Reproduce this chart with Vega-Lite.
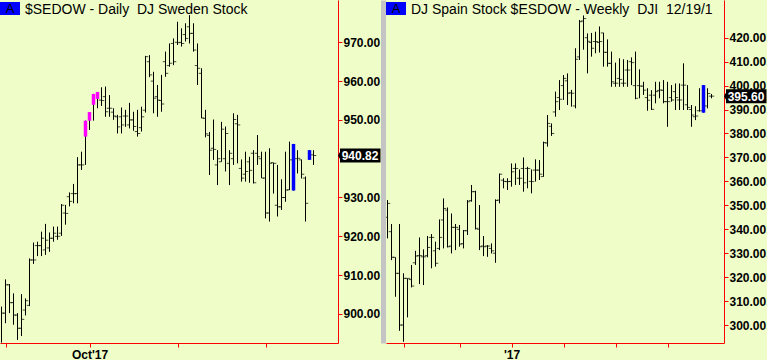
{
"$schema": "https://vega.github.io/schema/vega-lite/v6.json",
"background": "#effec8",
"padding": 0,
"config": {"view": {"stroke": null}},
"spacing": 48,
"bounds": "flush",
"datasets": {
"se": [
{"i":0,"o":null,"h":901.9,"l":892.6,"c":900.2},
{"i":1,"o":900.2,"h":908.9,"l":897.6,"c":907.5},
{"i":2,"o":907.5,"h":907.7,"l":900.2,"c":902.9},
{"i":3,"o":902.9,"h":905.3,"l":897.2,"c":899.7},
{"i":4,"o":899.7,"h":900.2,"l":893.3,"c":896.3},
{"i":5,"o":896.3,"h":905.1,"l":894.3,"c":898.6},
{"i":6,"o":901.0,"h":904.0,"l":899.6,"c":903.4},
{"i":7,"o":902.2,"h":914.3,"l":902.0,"c":913.9},
{"i":8,"o":913.9,"h":918.4,"l":912.9,"c":913.9},
{"i":9,"o":917.6,"h":918.6,"l":914.9,"c":917.6},
{"i":10,"o":917.6,"h":921.2,"l":914.9,"c":919.5},
{"i":11,"o":916.5,"h":923.2,"l":915.2,"c":919.0},
{"i":12,"o":917.0,"h":921.0,"l":916.0,"c":919.5},
{"i":13,"o":919.5,"h":922.5,"l":918.6,"c":920.8},
{"i":14,"o":920.0,"h":922.5,"l":919.1,"c":920.0},
{"i":15,"o":920.8,"h":928.3,"l":920.1,"c":928.0},
{"i":16,"o":926.0,"h":928.1,"l":923.0,"c":925.9},
{"i":17,"o":930.2,"h":931.3,"l":927.7,"c":929.0},
{"i":18,"o":931.0,"h":933.5,"l":928.5,"c":931.0},
{"i":19,"o":931.0,"h":940.4,"l":928.5,"c":938.4},
{"i":20,"o":938.4,"h":941.8,"l":937.1,"c":938.4},
{"i":21,"h":949.8,"l":938.4,"hl":"m","bt":949.8,"bb":945.7},
{"i":22,"h":952.0,"l":947.4,"hl":"m","bt":952.0,"bb":949.8},
{"i":23,"h":956.7,"l":949.8,"hl":"m","bt":956.7,"bb":953.9},
{"i":24,"h":957.2,"l":953.0,"hl":"m","bt":957.2,"bb":955.4},
{"i":25,"o":955.1,"h":958.4,"l":953.6,"c":955.0},
{"i":26,"o":956.0,"h":958.6,"l":950.8,"c":952.1},
{"i":27,"o":953.0,"h":956.4,"l":950.8,"c":953.0},
{"i":28,"o":952.0,"h":953.0,"l":950.0,"c":951.0},
{"i":29,"o":950.8,"h":951.3,"l":946.5,"c":948.2},
{"i":30,"o":950.8,"h":953.2,"l":946.5,"c":948.7},
{"i":31,"o":951.0,"h":952.6,"l":948.2,"c":951.0},
{"i":32,"o":948.7,"h":954.4,"l":947.8,"c":950.0},
{"i":33,"o":950.0,"h":952.1,"l":947.2,"c":948.3},
{"i":34,"o":947.0,"h":952.6,"l":945.7,"c":946.5},
{"i":35,"o":948.0,"h":953.4,"l":947.0,"c":950.8},
{"i":36,"o":952.5,"h":966.5,"l":951.9,"c":966.3},
{"i":37,"o":965.0,"h":966.7,"l":961.0,"c":961.6},
{"i":38,"o":960.0,"h":962.4,"l":951.7,"c":955.6},
{"i":39,"o":956.0,"h":959.0,"l":950.8,"c":955.1},
{"i":40,"o":955.0,"h":961.6,"l":952.1,"c":954.1},
{"i":41,"o":965.0,"h":967.6,"l":961.1,"c":962.0},
{"i":42,"o":964.0,"h":969.7,"l":963.7,"c":964.6},
{"i":43,"o":969.7,"h":971.0,"l":964.1,"c":965.0},
{"i":44,"o":970.0,"h":975.3,"l":969.3,"c":969.9},
{"i":45,"o":970.0,"h":973.6,"l":968.9,"c":969.7},
{"i":46,"o":972.0,"h":974.9,"l":970.2,"c":971.0},
{"i":47,"o":974.0,"h":977.0,"l":969.7,"c":972.3},
{"i":48,"o":972.3,"h":974.9,"l":967.6,"c":968.0},
{"i":49,"o":964.0,"h":969.7,"l":959.0,"c":963.3},
{"i":50,"o":962.0,"h":963.3,"l":950.4,"c":950.5},
{"i":51,"o":950.4,"h":952.6,"l":945.5,"c":946.4},
{"i":52,"o":946.0,"h":946.9,"l":935.8,"c":942.2},
{"i":53,"o":942.7,"h":950.1,"l":939.7,"c":942.4},
{"i":54,"o":938.4,"h":942.2,"l":933.2,"c":940.0},
{"i":55,"o":939.2,"h":949.5,"l":939.2,"c":947.6},
{"i":56,"o":940.0,"h":948.3,"l":936.7,"c":946.5},
{"i":57,"o":938.8,"h":942.2,"l":933.2,"c":941.4},
{"i":58,"o":940.0,"h":951.7,"l":938.4,"c":950.1},
{"i":59,"o":949.0,"h":951.3,"l":938.8,"c":948.7},
{"i":60,"o":937.5,"h":939.8,"l":934.1,"c":935.0},
{"i":61,"o":936.0,"h":941.8,"l":934.1,"c":936.7},
{"i":62,"o":939.2,"h":940.5,"l":933.8,"c":937.0},
{"i":63,"o":941.4,"h":942.2,"l":933.6,"c":933.8},
{"i":64,"o":941.4,"h":946.1,"l":938.4,"c":940.5},
{"i":65,"o":940.0,"h":941.8,"l":935.0,"c":935.0},
{"i":66,"o":935.0,"h":941.8,"l":924.6,"c":926.0},
{"i":67,"o":926.0,"h":942.7,"l":923.8,"c":938.8},
{"i":68,"o":939.0,"h":939.0,"l":931.0,"c":938.8},
{"i":69,"o":928.0,"h":938.4,"l":925.1,"c":927.6},
{"i":70,"o":927.6,"h":934.7,"l":926.8,"c":930.0},
{"i":71,"o":930.0,"h":941.8,"l":928.9,"c":931.9},
{"i":72,"o":932.0,"h":944.4,"l":931.9,"c":939.7},
{"i":73,"h":943.8,"l":931.8,"hl":"b","bt":943.8,"bb":931.8},
{"i":74,"o":940.0,"h":942.2,"l":936.2,"c":940.1},
{"i":75,"o":939.7,"h":939.8,"l":934.9,"c":936.0},
{"i":76,"o":935.0,"h":935.4,"l":923.8,"c":928.5},
{"i":77,"h":942.2,"l":939.7,"hl":"b","bt":942.2,"bb":939.7},
{"i":78,"o":941.0,"h":942.2,"l":938.4,"c":940.82}
],
"es": [
{"i":0,"o":345.0,"h":352.2,"l":336.2,"c":350.8},
{"i":1,"o":339.0,"h":342.2,"l":327.1,"c":328.3},
{"i":2,"o":328.3,"h":328.3,"l":311.8,"c":321.6},
{"i":3,"o":321.6,"h":342.2,"l":297.6,"c":300.0},
{"i":4,"o":300.0,"h":321.6,"l":293.0,"c":319.5},
{"i":5,"o":319.5,"h":319.5,"l":303.2,"c":319.5},
{"i":6,"o":319.0,"h":325.1,"l":315.7,"c":316.3},
{"i":7,"o":326.0,"h":331.0,"l":325.1,"c":328.8},
{"i":8,"o":329.0,"h":336.6,"l":317.1,"c":329.0},
{"i":9,"o":328.5,"h":331.6,"l":316.7,"c":328.5},
{"i":10,"o":329.0,"h":337.2,"l":328.3,"c":332.4},
{"i":11,"o":336.6,"h":338.0,"l":323.7,"c":336.6},
{"i":12,"o":331.0,"h":334.8,"l":324.4,"c":325.8},
{"i":13,"o":332.0,"h":344.1,"l":331.3,"c":336.6},
{"i":14,"o":343.9,"h":352.9,"l":332.0,"c":348.7},
{"i":15,"o":348.0,"h":349.1,"l":332.4,"c":332.7},
{"i":16,"o":333.0,"h":346.6,"l":329.9,"c":340.8},
{"i":17,"o":340.8,"h":342.2,"l":331.3,"c":340.8},
{"i":18,"o":340.0,"h":341.8,"l":332.7,"c":333.8},
{"i":19,"o":334.0,"h":339.7,"l":332.0,"c":339.4},
{"i":20,"o":339.4,"h":352.2,"l":337.6,"c":351.5},
{"i":21,"o":352.0,"h":358.5,"l":351.5,"c":355.7},
{"i":22,"o":355.7,"h":356.1,"l":339.9,"c":340.4},
{"i":23,"o":340.0,"h":350.1,"l":331.3,"c":332.7},
{"i":24,"o":333.0,"h":337.2,"l":328.8,"c":332.7},
{"i":25,"o":333.0,"h":333.4,"l":328.5,"c":333.0},
{"i":26,"o":332.0,"h":334.1,"l":329.9,"c":331.0},
{"i":27,"o":330.0,"h":352.5,"l":326.0,"c":352.0},
{"i":28,"o":352.2,"h":363.3,"l":350.8,"c":363.0},
{"i":29,"o":360.5,"h":361.3,"l":357.1,"c":360.0},
{"i":30,"o":359.9,"h":361.3,"l":356.4,"c":359.9},
{"i":31,"o":360.0,"h":367.5,"l":357.8,"c":364.0},
{"i":32,"o":365.4,"h":367.5,"l":358.5,"c":365.4},
{"i":33,"o":361.3,"h":365.0,"l":358.5,"c":361.3},
{"i":34,"o":365.4,"h":370.0,"l":355.7,"c":359.4},
{"i":35,"o":365.4,"h":366.1,"l":357.1,"c":365.4},
{"i":36,"o":360.0,"h":365.0,"l":355.0,"c":359.9},
{"i":37,"o":364.7,"h":369.2,"l":359.9,"c":364.7},
{"i":38,"o":364.7,"h":368.9,"l":360.6,"c":363.0},
{"i":39,"o":362.0,"h":376.6,"l":361.9,"c":376.2},
{"i":40,"o":376.0,"h":387.7,"l":374.5,"c":384.2},
{"i":41,"o":383.0,"h":384.2,"l":379.0,"c":380.0},
{"i":42,"o":389.0,"h":397.5,"l":387.0,"c":393.3},
{"i":43,"o":395.0,"h":402.3,"l":389.8,"c":394.3},
{"i":44,"o":400.0,"h":404.4,"l":394.0,"c":403.0},
{"i":45,"o":402.0,"h":405.1,"l":391.9,"c":396.8},
{"i":46,"o":397.0,"h":398.2,"l":391.2,"c":396.8},
{"i":47,"o":391.5,"h":415.6,"l":390.5,"c":411.0},
{"i":48,"o":412.0,"h":427.4,"l":410.7,"c":426.7},
{"i":49,"o":427.0,"h":429.3,"l":415.0,"c":428.0},
{"i":50,"o":420.0,"h":421.8,"l":405.1,"c":418.5},
{"i":51,"o":418.0,"h":422.0,"l":412.1,"c":415.6},
{"i":52,"o":418.4,"h":422.5,"l":413.5,"c":418.4},
{"i":53,"o":418.0,"h":424.7,"l":413.8,"c":418.4},
{"i":54,"o":422.0,"h":422.1,"l":407.9,"c":413.9},
{"i":55,"o":413.9,"h":419.3,"l":407.9,"c":409.3},
{"i":56,"o":409.3,"h":414.2,"l":399.5,"c":401.6},
{"i":57,"o":401.0,"h":409.6,"l":399.5,"c":401.0},
{"i":58,"o":403.0,"h":411.4,"l":399.5,"c":402.6},
{"i":59,"o":401.0,"h":411.0,"l":399.5,"c":401.0},
{"i":60,"o":406.5,"h":410.7,"l":399.5,"c":406.5},
{"i":61,"o":410.0,"h":411.8,"l":400.2,"c":409.6},
{"i":62,"o":400.0,"h":414.2,"l":394.3,"c":394.7},
{"i":63,"o":400.0,"h":406.8,"l":394.7,"c":399.8},
{"i":64,"o":399.8,"h":401.6,"l":396.1,"c":398.1},
{"i":65,"o":395.0,"h":398.9,"l":389.5,"c":393.9},
{"i":66,"o":396.0,"h":398.1,"l":389.8,"c":390.1},
{"i":67,"o":396.0,"h":401.6,"l":392.6,"c":397.5},
{"i":68,"o":398.0,"h":401.6,"l":394.7,"c":398.2},
{"i":69,"o":398.0,"h":402.3,"l":392.6,"c":393.3},
{"i":70,"o":393.3,"h":401.6,"l":382.8,"c":393.3},
{"i":71,"o":395.0,"h":400.2,"l":393.3,"c":394.0},
{"i":72,"o":397.5,"h":400.9,"l":389.8,"c":395.0},
{"i":73,"o":394.0,"h":400.9,"l":389.8,"c":394.0},
{"i":74,"o":400.2,"h":409.3,"l":389.8,"c":400.2},
{"i":75,"o":392.0,"h":400.2,"l":389.8,"c":390.9},
{"i":76,"o":390.0,"h":391.9,"l":382.8,"c":387.7},
{"i":77,"o":387.0,"h":391.4,"l":385.6,"c":387.3},
{"i":78,"o":389.5,"h":398.9,"l":389.1,"c":389.5},
{"i":79,"h":400.2,"l":388.7,"hl":"b","bt":400.2,"bb":388.7},
{"i":80,"o":391.5,"h":398.9,"l":390.5,"c":396.7},
{"i":81,"o":395.6,"h":396.5,"l":394.7,"c":395.6}
],
"badge": [{"tag": "A"}]
},
"hconcat": [
{
"width": 338, "height": 343,
"title": {"text": "$SEDOW - Daily\u00a0 DJ Sweden Stock", "anchor": "start", "frame": "group", "offset": -17, "dx": 25, "font": "Liberation Sans", "fontSize": 14, "fontWeight": "normal", "color": "#000000"},
"resolve": {"axis": {"y": "independent"}},
"layer": [
{"data": {"name": "se"},
 "mark": {"type": "rule", "color": "#000000", "strokeWidth": 1},
 "encoding": {
  "x": {"field": "i", "type": "quantitative", "scale": {"domain": [-0.375, 84.125], "nice": false, "zero": false},
   "axis": {"values": [1, 22, 44, 66], "labelExpr": "datum.value == 22 ? \"Oct'17\" : ''", "title": null, "grid": false, "domainColor": "#ff0000", "tickColor": "#ff0000", "tickSize": 4, "labelFont": "Liberation Sans", "labelFontSize": 12, "labelFontWeight": "bold", "labelColor": "#000000", "labelPadding": 2, "zindex": 0}},
  "y": {"field": "l", "type": "quantitative", "scale": {"domain": [892.5, 980.9], "nice": false, "zero": false},
   "axis": {"orient": "right", "values": [900, 910, 920, 930, 950, 960, 970], "format": ".2f", "title": null, "grid": false, "domainColor": "#ff0000", "tickColor": "#ff0000", "tickSize": 4, "labelFont": "Liberation Sans", "labelFontSize": 12, "labelFontWeight": "bold", "labelColor": "#000000", "labelPadding": 1, "zindex": 0}},
  "y2": {"field": "h"}}},
{"data": {"name": "se"},
 "transform": [{"filter": "isValid(datum.o)"}],
 "mark": {"type": "tick", "orient": "horizontal", "size": 2.5, "thickness": 1, "xOffset": -1.5, "color": "#000000", "clip": true},
 "encoding": {"x": {"field": "i", "type": "quantitative"}, "y": {"field": "o", "type": "quantitative", "axis": null}}},
{"data": {"name": "se"},
 "transform": [{"filter": "isValid(datum.c)"}],
 "mark": {"type": "tick", "orient": "horizontal", "size": 2.5, "thickness": 1, "xOffset": 1.5, "color": "#000000", "clip": true},
 "encoding": {"x": {"field": "i", "type": "quantitative"}, "y": {"field": "c", "type": "quantitative", "axis": null}}},
{"data": {"name": "se"},
 "transform": [{"filter": "isValid(datum.bt)"}],
 "mark": {"type": "rule", "strokeWidth": 3.5},
 "encoding": {"x": {"field": "i", "type": "quantitative"}, "y": {"field": "bb", "type": "quantitative", "axis": null}, "y2": {"field": "bt"},
  "color": {"field": "hl", "type": "nominal", "scale": {"domain": ["m", "b"], "range": ["#ff00ff", "#0000ff"]}, "legend": null}}},
{"data": {"name": "se"},
 "transform": [{"filter": "datum.i == 78"}],
 "mark": {"type": "point", "shape": "M-2.15,0L-1.95,-0.35L-1.95,-0.7L2.1,-0.7L2.1,0.7L-1.95,0.7L-1.95,0.35Z", "size": 400, "filled": true, "color": "#000000", "opacity": 1, "xOffset": 46},
 "encoding": {"x": {"field": "i", "type": "quantitative"}, "y": {"field": "c", "type": "quantitative", "axis": null}}},
{"data": {"name": "se"},
 "transform": [{"filter": "datum.i == 78"}],
 "mark": {"type": "text", "color": "#ffffff", "font": "Liberation Sans", "fontSize": 12, "fontWeight": "bold", "align": "center", "baseline": "middle", "xOffset": 46.5, "dy": 0.5},
 "encoding": {"x": {"field": "i", "type": "quantitative"}, "y": {"field": "c", "type": "quantitative", "axis": null}, "text": {"field": "c", "type": "quantitative", "format": ".2f"}}},
{"data": {"name": "badge"},
 "mark": {"type": "point", "shape": "M0,0.2L2,0.2L2,1.5L0,1.5Z", "size": 400, "filled": true, "color": "#0000ff", "opacity": 1},
 "encoding": {"x": {"datum": -0.375, "type": "quantitative"}, "y": {"datum": 980.9, "type": "quantitative", "axis": null}}},
{"data": {"name": "badge"},
 "mark": {"type": "text", "color": "#000000", "font": "Liberation Sans", "fontSize": 13, "align": "center", "baseline": "middle", "dx": 10, "dy": 9},
 "encoding": {"x": {"datum": -0.375, "type": "quantitative"}, "y": {"datum": 980.9, "type": "quantitative", "axis": null}, "text": {"field": "tag"}}}
]
},
{
"width": 338, "height": 343,
"title": {"text": "DJ Spain Stock $ESDOW - Weekly\u00a0 DJI\u00a0 12/19/1", "anchor": "start", "frame": "group", "offset": -17, "dx": 25, "font": "Liberation Sans", "fontSize": 14, "fontWeight": "normal", "color": "#000000"},
"resolve": {"axis": {"y": "independent"}},
"layer": [
{"data": {"name": "es"},
 "mark": {"type": "rule", "color": "#000000", "strokeWidth": 1},
 "encoding": {
  "x": {"field": "i", "type": "quantitative", "scale": {"domain": [-0.375, 84.125], "nice": false, "zero": false},
   "axis": {"values": [4, 18, 31, 44, 57, 70], "labelExpr": "datum.value == 31 ? \"'17\" : ''", "title": null, "grid": false, "domainColor": "#ff0000", "tickColor": "#ff0000", "tickSize": 4, "labelFont": "Liberation Sans", "labelFontSize": 12, "labelFontWeight": "bold", "labelColor": "#000000", "labelPadding": 2, "zindex": 0}},
  "y": {"field": "l", "type": "quantitative", "scale": {"domain": [292.5, 435.75], "nice": false, "zero": false},
   "axis": {"orient": "right", "values": [300, 310, 320, 330, 340, 350, 360, 370, 380, 390, 400, 410, 420], "format": ".2f", "title": null, "grid": false, "domainColor": "#ff0000", "tickColor": "#ff0000", "tickSize": 4, "labelFont": "Liberation Sans", "labelFontSize": 12, "labelFontWeight": "bold", "labelColor": "#000000", "labelPadding": 1, "zindex": 0}},
  "y2": {"field": "h"}}},
{"data": {"name": "es"},
 "transform": [{"filter": "isValid(datum.o)"}],
 "mark": {"type": "tick", "orient": "horizontal", "size": 2.5, "thickness": 1, "xOffset": -1.5, "color": "#000000", "clip": true},
 "encoding": {"x": {"field": "i", "type": "quantitative"}, "y": {"field": "o", "type": "quantitative",
   "axis": {"orient": "left", "labels": false, "ticks": false, "title": null, "grid": false, "domainColor": "#c4c4c4", "domainWidth": 5, "offset": 3}}}},
{"data": {"name": "es"},
 "transform": [{"filter": "isValid(datum.c)"}],
 "mark": {"type": "tick", "orient": "horizontal", "size": 2.5, "thickness": 1, "xOffset": 1.5, "color": "#000000", "clip": true},
 "encoding": {"x": {"field": "i", "type": "quantitative"}, "y": {"field": "c", "type": "quantitative", "axis": null}}},
{"data": {"name": "es"},
 "transform": [{"filter": "isValid(datum.bt)"}],
 "mark": {"type": "rule", "strokeWidth": 3.5},
 "encoding": {"x": {"field": "i", "type": "quantitative"}, "y": {"field": "bb", "type": "quantitative", "axis": null}, "y2": {"field": "bt"},
  "color": {"field": "hl", "type": "nominal", "scale": {"domain": ["m", "b"], "range": ["#ff00ff", "#0000ff"]}, "legend": null}}},
{"data": {"name": "es"},
 "transform": [{"filter": "datum.i == 81"}],
 "mark": {"type": "point", "shape": "M-2.15,0L-1.95,-0.35L-1.95,-0.7L2.1,-0.7L2.1,0.7L-1.95,0.7L-1.95,0.35Z", "size": 400, "filled": true, "color": "#000000", "opacity": 1, "xOffset": 34},
 "encoding": {"x": {"field": "i", "type": "quantitative"}, "y": {"field": "c", "type": "quantitative", "axis": null}}},
{"data": {"name": "es"},
 "transform": [{"filter": "datum.i == 81"}],
 "mark": {"type": "text", "color": "#ffffff", "font": "Liberation Sans", "fontSize": 12, "fontWeight": "bold", "align": "center", "baseline": "middle", "xOffset": 34.5, "dy": 0.5},
 "encoding": {"x": {"field": "i", "type": "quantitative"}, "y": {"field": "c", "type": "quantitative", "axis": null}, "text": {"field": "c", "type": "quantitative", "format": ".2f"}}},
{"data": {"name": "badge"},
 "mark": {"type": "point", "shape": "M0,0.2L2,0.2L2,1.5L0,1.5Z", "size": 400, "filled": true, "color": "#0000ff", "opacity": 1},
 "encoding": {"x": {"datum": -0.375, "type": "quantitative"}, "y": {"datum": 435.75, "type": "quantitative", "axis": null}}},
{"data": {"name": "badge"},
 "mark": {"type": "text", "color": "#000000", "font": "Liberation Sans", "fontSize": 13, "align": "center", "baseline": "middle", "dx": 10, "dy": 9},
 "encoding": {"x": {"datum": -0.375, "type": "quantitative"}, "y": {"datum": 435.75, "type": "quantitative", "axis": null}, "text": {"field": "tag"}}}
]
}
]
}
